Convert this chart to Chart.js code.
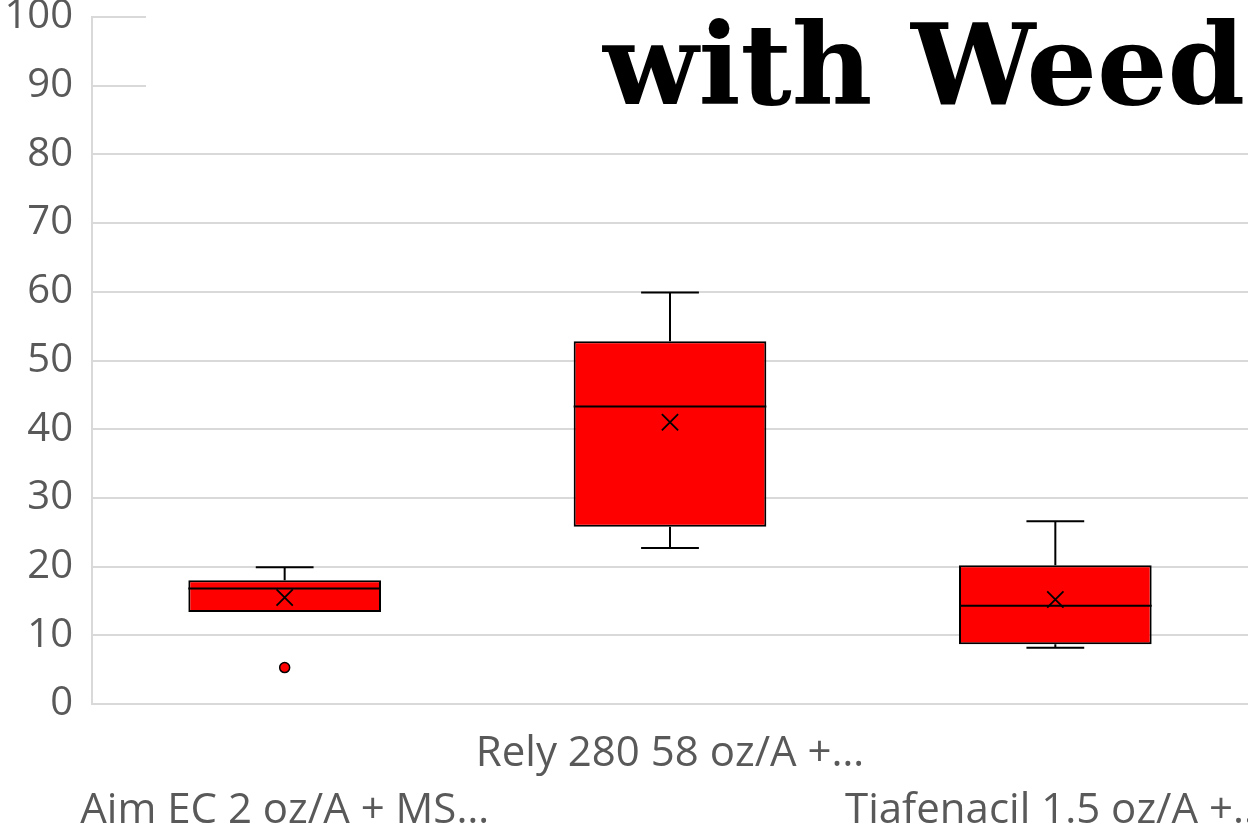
<!DOCTYPE html>
<html>
<head>
<meta charset="utf-8">
<script src="https://cdn.jsdelivr.net/npm/chart.js@4"></script>
<style>
  html, body { margin: 0; padding: 0; background: #fff; }
  #wrap { width: 1248px; height: 833px; }
</style>
</head>
<body>
<div id="wrap"><canvas id="chartBox"></canvas></div>
<script>
// dados
const categorias = ['Aim EC 2 oz/A + MS…', 'Rely 280 58 oz/A +…', 'Tiafenacil 1.5 oz/A +…'];
const minimos = [13.4, 22.7, 8.2];
const quartil1 = [13.4, 25.8, 8.7];
const medianas = [16.8, 43.3, 14.3];
const quartil3 = [18.0, 52.8, 20.2];
const maximos = [19.9, 59.9, 26.6];
const medias = [15.5, 41.0, 15.2];
const outliers = [5.3, null, null];
const yTicks = [0, 10, 20, 30, 40, 50, 60, 70, 80, 90, 100];
const titulo = 'with Weed';

const caixas = quartil1.map((q, i) => [q, quartil3[i]]);

// bigodes e mediana desenhados em cima das barras
const bigodes = {
    id: 'bigodes',
    afterDatasetsDraw(chart) {
        const ctx = chart.ctx;
        const y = chart.scales.y;
        const meta = chart.getDatasetMeta(0);
        ctx.save();
        ctx.strokeStyle = '#000';
        ctx.lineWidth = 2;
        meta.data.forEach((bar, i) => {
            const x = bar.x;
            const w = bar.width;
            const cap = w * 0.15;
            ctx.beginPath();
            // superior
            ctx.moveTo(x, y.getPixelForValue(quartil3[i]));
            ctx.lineTo(x, y.getPixelForValue(maximos[i]));
            ctx.moveTo(x - cap, y.getPixelForValue(maximos[i]));
            ctx.lineTo(x + cap, y.getPixelForValue(maximos[i]));
            // inferior
            if (minimos[i] < quartil1[i]) {
                ctx.moveTo(x, y.getPixelForValue(quartil1[i]));
                ctx.lineTo(x, y.getPixelForValue(minimos[i]));
                ctx.moveTo(x - cap, y.getPixelForValue(minimos[i]));
                ctx.lineTo(x + cap, y.getPixelForValue(minimos[i]));
            }
            // mediana
            ctx.moveTo(x - w / 2, y.getPixelForValue(medianas[i]));
            ctx.lineTo(x + w / 2, y.getPixelForValue(medianas[i]));
            ctx.stroke();
        });
        ctx.restore();
    }
};

// titulo cortado no canto superior direito
const tituloPlugin = {
    id: 'tituloPlugin',
    afterDraw(chart) {
        const ctx = chart.ctx;
        ctx.save();
        ctx.fillStyle = '#fff';
        ctx.fillRect(146, 0, chart.width - 146, 118);
        ctx.fillStyle = '#000';
        ctx.font = 'bold 112px "DejaVu Serif"';
        ctx.textBaseline = 'alphabetic';
        ctx.textAlign = 'left';
        const larg = ctx.measureText(titulo).width;
        ctx.translate(603, 104);
        ctx.scale(642 / larg, 1);
        ctx.fillText(titulo, 0, 0);
        ctx.restore();
    }
};

const ctx = document.getElementById('chartBox').getContext('2d');
const boxChart = new Chart(ctx, {
    type: 'bar',
    data: {
        labels: categorias,
        datasets: [
            {
                label: 'caixa',
                data: caixas,
                backgroundColor: '#ff0000',
                borderColor: '#000',
                borderWidth: 2,
                borderSkipped: false,
                barPercentage: 0.5,
                categoryPercentage: 1,
                order: 2
            },
            {
                type: 'line',
                label: 'média',
                data: medias,
                showLine: false,
                pointStyle: 'crossRot',
                pointRadius: 11.5,
                borderColor: '#000',
                borderWidth: 1.8,
                order: 0
            },
            {
                type: 'line',
                label: 'outlier',
                data: outliers,
                showLine: false,
                pointStyle: 'circle',
                pointRadius: 5,
                backgroundColor: '#ff0000',
                borderColor: '#000',
                borderWidth: 1.5,
                order: 0
            }
        ]
    },
    options: {
        responsive: true,
        maintainAspectRatio: false,
        animation: false,
        layout: { autoPadding: false, padding: { top: 17, right: 0, left: 0, bottom: 0 } },
        plugins: {
            legend: { display: false },
            tooltip: { enabled: false }
        },
        scales: {
            x: {
                offset: true,
                grid: { display: false },
                border: { display: false },
                ticks: {
                    color: '#595959',
                    font: { family: 'Open Sans', size: 42, lineHeight: 1.35 },
                    maxRotation: 0,
                    autoSkip: false,
                    padding: 14,
                    callback: function (v, i) {
                        const txt = categorias[i];
                        return i % 2 ? [txt, ''] : ['', txt];
                    }
                },
                afterFit(scale) {
                    // o rótulo da direita pode sair do canvas, como no original
                    scale.paddingLeft = 0;
                    scale.paddingRight = 0;
                    scale.height = 129;
                }
            },
            y: {
                min: 0,
                max: 100,
                afterBuildTicks(scale) {
                    scale.ticks = yTicks.map(v => ({ value: v }));
                },
                grid: { color: '#d9d9d9', lineWidth: 2, drawTicks: false },
                border: { color: '#d9d9d9', width: 2 },
                ticks: {
                    color: '#595959',
                    font: { family: 'Open Sans', size: 40 },
                    padding: 19
                },
                afterFit(scale) {
                    scale.width = 92;
                    scale.paddingTop = 0;
                    scale.paddingBottom = 0;
                }
            }
        }
    },
    plugins: [bigodes, tituloPlugin]
});
</script>
</body>
</html>
